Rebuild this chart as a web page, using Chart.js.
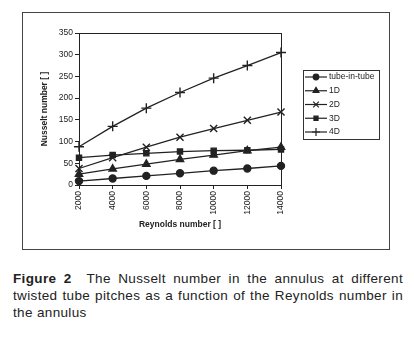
<!DOCTYPE html>
<html>
<head>
<meta charset="utf-8">
<script src="https://cdn.jsdelivr.net/npm/chart.js@4/dist/chart.umd.min.js"></script>
<style>
    body { margin: 0; background: #fff; width: 414px; height: 338px; position: relative; overflow: hidden; font-family: "Liberation Sans", Arial, sans-serif; color: #222; }
    #frame { position: absolute; left: 22px; top: 12px; width: 368px; height: 238px; border: 1px solid #444; box-sizing: border-box; }
    #chart { position: absolute; left: 22px; top: 12px; }
    #caption { position: absolute; left: 13px; top: 270px; width: 390px; font-size: 13.5px; line-height: 17px; letter-spacing: 0.35px; }
    #caption .j { text-align: justify; text-align-last: justify; }
</style>
</head>
<body>
<div id="frame"></div>
<canvas id="chart" width="368" height="238"></canvas>
<div id="caption">
    <div class="j"><b>Figure 2</b>&nbsp; The Nusselt number in the annulus at different</div>
    <div class="j">twisted tube pitches as a function of the Reynolds number in</div>
    <div>the annulus</div>
</div>
<script>
const reynolds = [2000, 4000, 6000, 8000, 10000, 12000, 14000];
const yTicks = [0, 50, 100, 150, 200, 250, 300, 350];
const tubeInTube = [9, 15, 21, 27, 33, 38, 44];
const pitch1D = [25, 37, 48, 59, 69, 79, 87];
const pitch2D = [38, 63, 87, 110, 130, 149, 168];
const pitch3D = [63, 69, 73, 77, 79, 80, 82];
const pitch4D = [88, 135, 177, 213, 246, 275, 305];

const ink = '#222';
const font = { family: '"Liberation Sans", Arial, sans-serif', size: 8.5 };

function series(label, data, style, radius) {
    return {
        label: label,
        data: data,
        borderColor: ink,
        backgroundColor: ink,
        borderWidth: 1.3,
        pointStyle: style,
        pointRadius: radius,
        pointBorderWidth: 1.4,
        pointBackgroundColor: ink,
        pointBorderColor: ink,
        tension: 0
    };
}

// box round the plot area and the legend on the right
const boxPlugin = {
    id: 'box',
    afterDraw(chart) {
        const ctx = chart.ctx;
        const a = chart.chartArea;
        ctx.save();
        ctx.strokeStyle = ink;
        ctx.lineWidth = 1;
        ctx.strokeRect(Math.round(a.left) + 0.5, Math.round(a.top) + 0.5, Math.round(a.right - a.left), Math.round(a.bottom - a.top));

        const lx = 281, ly = 58, lw = 76, lh = 69;
        ctx.strokeStyle = '#333';
        ctx.strokeRect(lx + 0.5, ly + 0.5, lw, lh);
        ctx.font = '8.5px "Liberation Sans", Arial, sans-serif';
        ctx.textBaseline = 'middle';
        chart.data.datasets.forEach((ds, i) => {
            const y = ly + 7 + i * 13.75;
            ctx.strokeStyle = ink;
            ctx.fillStyle = ink;
            ctx.lineWidth = 1.2;
            ctx.beginPath();
            ctx.moveTo(lx + 2, y);
            ctx.lineTo(lx + 24, y);
            ctx.stroke();
            Chart.helpers.drawPoint(ctx, { pointStyle: ds.pointStyle, radius: ds.pointRadius * 0.8, borderWidth: 1.2, rotation: 0 }, lx + 13, y);
            ctx.fillStyle = ink;
            ctx.fillText(ds.label, lx + 26, y);
        });
        ctx.restore();
    }
};

new Chart(document.getElementById('chart'), {
    type: 'line',
    data: {
        labels: reynolds,
        datasets: [
            series('tube-in-tube', tubeInTube, 'circle', 3.5),
            series('1D', pitch1D, 'triangle', 4.2),
            series('2D', pitch2D, 'crossRot', 5),
            series('3D', pitch3D, 'rect', 3.6),
            series('4D', pitch4D, 'cross', 5)
        ]
    },
    options: {
        responsive: false,
        animation: false,
        layout: { padding: { left: 18, right: 109, top: 21, bottom: 20 } },
        plugins: { legend: { display: false }, tooltip: { enabled: false } },
        scales: {
            x: {
                offset: false,
                afterFit(scale) { scale.height = 45; },
                grid: { drawOnChartArea: false, drawTicks: true, tickLength: 4, color: ink },
                border: { display: true, color: ink, width: 1 },
                ticks: { color: ink, font: font, minRotation: 90, maxRotation: 90, padding: 2, autoSkip: false },
                title: { display: true, text: 'Reynolds number [ ]', color: ink, font: { family: font.family, size: 8.5, weight: 'bold' }, padding: 0 }
            },
            y: {
                min: 0,
                max: 350,
                afterFit(scale) { scale.width = 39; },
                afterBuildTicks(scale) { scale.ticks = yTicks.map(v => ({ value: v })); },
                grid: { drawOnChartArea: false, drawTicks: true, tickLength: 4, color: ink },
                border: { display: true, color: ink, width: 1 },
                ticks: { color: ink, font: font, padding: 2 },
                title: { display: true, text: 'Nusselt number [ ]', color: ink, font: { family: font.family, size: 8.5, weight: 'bold' }, padding: 0 }
            }
        }
    },
    plugins: [boxPlugin]
});
</script>
</body>
</html>
